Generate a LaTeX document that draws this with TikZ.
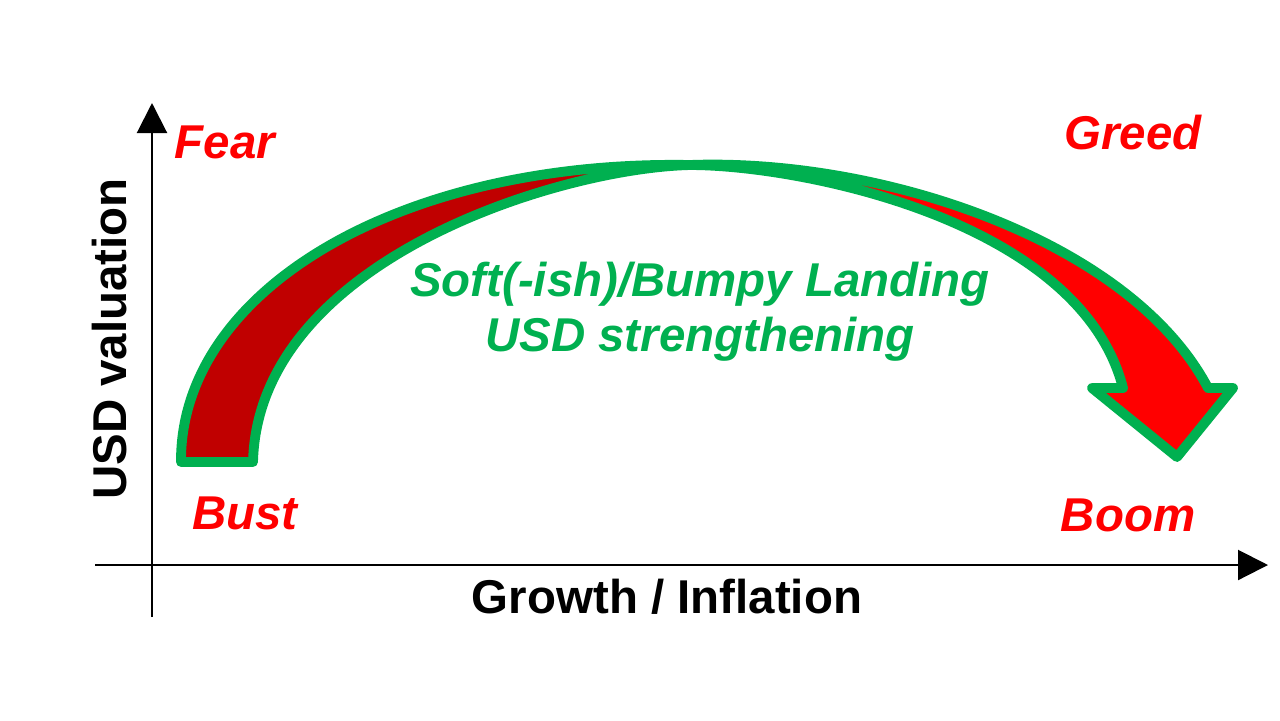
\documentclass[tikz,border=0pt]{standalone}
\usepackage{fontspec}
\setmainfont{Liberation Sans}
\usetikzlibrary{arrows.meta}
\definecolor{swinggreen}{HTML}{00B050}
\definecolor{bustred}{HTML}{C00000}
\begin{document}
\begin{tikzpicture}[x=0.1mm, y=-0.1mm,
    every node/.style={inner sep=0pt, font=\fontsize{13.5}{15.6}\selectfont\bfseries\itshape},
    mood/.style={text=red},
    axislabel/.style={font=\fontsize{13.5}{15.6}\selectfont\bfseries},
    axis/.style={line width=0.6pt, -{Triangle[length=3mm,width=3mm]}}]
  \useasboundingbox (0,0) rectangle (1280,720);
  \coordinate (ybot) at (152,617);
  \coordinate (ytop) at (152,103);
  \coordinate (xleft) at (95,565);
  \coordinate (xright) at (1268,565);
  \draw[axis] (ybot) -- (ytop);
  \draw[axis] (xleft) -- (xright);
  \fill[bustred] (181,462) .. controls (180,290) and (400,160) .. (690,165)
    .. controls (560,168) and (258,260) .. (253,462) -- cycle;
  \fill[red] (690,165) .. controls (880,158) and (1130,240) .. (1208,388)
    -- (1233,388) -- (1177,457) -- (1092,388) -- (1123,388)
    .. controls (1080,220) and (800,165) .. (690,165) -- cycle;
  \draw[swinggreen, line width=2.8pt, line join=round]
    (181,462) .. controls (180,290) and (400,160) .. (690,165)
    .. controls (880,158) and (1130,240) .. (1208,388)
    -- (1233,388) -- (1177,457) -- (1092,388) -- (1123,388)
    .. controls (1080,220) and (800,165) .. (690,165)
    .. controls (560,168) and (258,260) .. (253,462) -- cycle;
  \node[mood] (fear) at (225,142) {Fear};
  \node[mood] (greed) at (1133,133) {Greed};
  \node[mood] (bust) at (245,513) {Bust};
  \node[mood] (boom) at (1128,515) {Boom};
  \node[text=swinggreen, align=center] (landing) at (700,312) {Soft(-ish)/Bumpy Landing\\USD strengthening};
  \node[axislabel] (xlabel) at (667,597) {Growth / Inflation};
  \node[axislabel, rotate=90] (ylabel) at (110,339) {USD valuation};
\end{tikzpicture}
\end{document}
